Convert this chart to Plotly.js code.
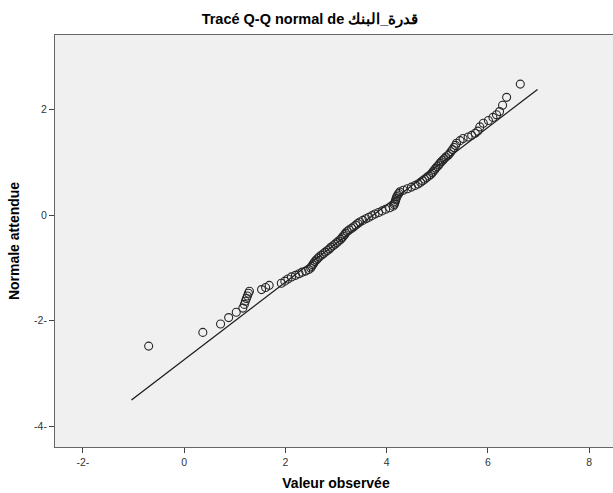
<!DOCTYPE html>
<html>
<head>
<meta charset="utf-8">
<script src="https://cdn.plot.ly/plotly-3.0.1.min.js"></script>
<style>
html,body{margin:0;padding:0;overflow:hidden;background:#fff;}
#chart{width:620px;height:493px;}
</style>
</head>
<body>
<div id="chart"></div>
<script>
const observed = [
 -0.70, 0.37, 0.72, 0.88, 1.03, 1.16, 1.19, 1.21, 1.23, 1.25, 1.27, 1.29,
 1.53, 1.61, 1.68, 1.92, 1.99, 2.05, 2.12, 2.20, 2.27, 2.33, 2.40, 2.46,
 2.50, 2.52, 2.54, 2.56, 2.58, 2.61, 2.64, 2.67, 2.71, 2.75, 2.79, 2.83,
 2.87, 2.90, 2.94, 2.98, 3.02, 3.05, 3.09, 3.12, 3.14, 3.17, 3.19, 3.22,
 3.26, 3.31, 3.35, 3.39, 3.43, 3.47, 3.53, 3.59, 3.65, 3.71, 3.77, 3.84,
 3.91, 3.98, 4.06, 4.13, 4.15, 4.16, 4.17, 4.18, 4.19, 4.20, 4.22, 4.24,
 4.26, 4.33, 4.41, 4.49, 4.56, 4.62, 4.67, 4.71, 4.75, 4.79, 4.83, 4.87,
 4.90, 4.92, 4.95, 4.97, 5.00, 5.03, 5.05, 5.08, 5.11, 5.14, 5.17, 5.21,
 5.24, 5.27, 5.30, 5.33, 5.36, 5.38, 5.45, 5.51, 5.61, 5.68, 5.75, 5.80,
 5.84, 5.91, 6.01, 6.10, 6.17, 6.23, 6.29, 6.37, 6.64
];
const expected = [
 -2.48, -2.22, -2.06, -1.94, -1.84, -1.76, -1.69, -1.63, -1.58, -1.53, -1.48, -1.44,
 -1.41, -1.37, -1.33, -1.29, -1.25, -1.21, -1.17, -1.14, -1.11, -1.08, -1.06, -1.03,
 -1.00, -0.97, -0.94, -0.91, -0.88, -0.85, -0.82, -0.79, -0.76, -0.73, -0.70, -0.67,
 -0.64, -0.61, -0.58, -0.55, -0.52, -0.49, -0.46, -0.43, -0.40, -0.37, -0.34, -0.31,
 -0.28, -0.25, -0.22, -0.19, -0.16, -0.13, -0.10, -0.07, -0.04, -0.01, 0.02, 0.05,
 0.08, 0.11, 0.14, 0.17, 0.20, 0.23, 0.26, 0.29, 0.32, 0.35, 0.38, 0.41,
 0.44, 0.47, 0.50, 0.53, 0.56, 0.59, 0.62, 0.65, 0.68, 0.71, 0.74, 0.77,
 0.80, 0.83, 0.86, 0.89, 0.92, 0.95, 0.98, 1.01, 1.04, 1.07, 1.10, 1.13,
 1.16, 1.20, 1.24, 1.28, 1.32, 1.36, 1.41, 1.45, 1.48, 1.51, 1.55, 1.59,
 1.67, 1.74, 1.79, 1.85, 1.90, 1.96, 2.08, 2.23, 2.48
];
// Reference line end points
const lineX = [-1.04, 6.98];
const lineY = [-3.50, 2.38];
// Tick values and labels
const xTickVals = [-2, 0, 2, 4, 6, 8];
const xTickText = ['-2-', '0', '2', '4', '6', '8'];
const yTickVals = [-4, -2, 0, 2];
const yTickText = ['-4-', '-2-', '0', '2'];

const font = 'Liberation Sans, Arial, sans-serif';

const traces = [
  {
    x: lineX, y: lineY, type: 'scatter', mode: 'lines',
    line: {color: '#1a1a1a', width: 1.3}, hoverinfo: 'skip', showlegend: false
  },
  {
    x: observed, y: expected, type: 'scatter', mode: 'markers',
    marker: {symbol: 'circle-open', size: 8, color: '#262626', line: {width: 1.1, color: '#262626'}},
    showlegend: false
  }
];

const layout = {
  width: 620, height: 493,
  margin: {l: 55, r: 3, t: 35, b: 46},
  paper_bgcolor: '#ffffff',
  plot_bgcolor: '#f0f0f0',
  title: {
    text: 'Tracé Q-Q normal de قدرة_البنك',
    font: {family: font, size: 14.5, color: '#000', weight: 'bold'},
    x: 0.5, xref: 'container', xanchor: 'center',
    y: 0.962, yref: 'container', yanchor: 'middle'
  },
  xaxis: {
    range: [-2.55, 8.55],
    tickvals: xTickVals, ticktext: xTickText,
    ticks: 'outside', ticklen: 5, tickwidth: 1, tickcolor: '#444',
    showgrid: false, zeroline: false,
    showline: true, linecolor: '#666', linewidth: 1, mirror: true,
    tickfont: {family: font, size: 10.5, color: '#333'},
    title: {text: 'Valeur observée', font: {family: font, size: 14, color: '#000', weight: 'bold'}, standoff: 11}
  },
  yaxis: {
    range: [-4.39, 3.41],
    tickvals: yTickVals, ticktext: yTickText,
    ticks: 'outside', ticklen: 5, tickwidth: 1, tickcolor: '#444',
    showgrid: false, zeroline: false,
    showline: true, linecolor: '#666', linewidth: 1, mirror: true,
    tickfont: {family: font, size: 10.5, color: '#333'},
    title: {text: 'Normale attendue', font: {family: font, size: 14, color: '#000', weight: 'bold'}, standoff: 11}
  }
};

Plotly.newPlot('chart', traces, layout, {displayModeBar: false, staticPlot: true});
</script>
</body>
</html>
